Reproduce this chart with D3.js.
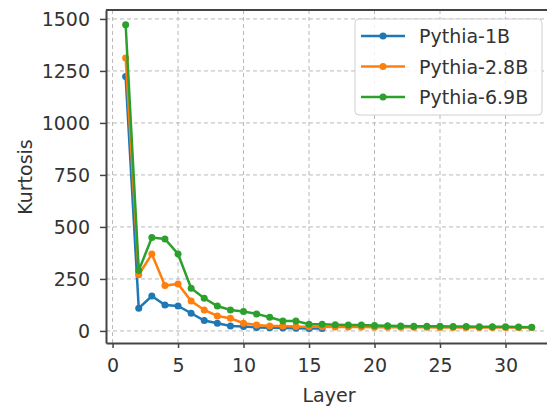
<!DOCTYPE html>
<html lang="en">
	<head>
		<meta charset="utf-8">
		<title>Kurtosis per layer</title>
		<script type="text/javascript" src="https://cdn.jsdelivr.net/npm/d3@7"></script>
		<style type="text/css">
			body, html {
				margin: 0;
				padding: 0;
				background: #fff;
			}
			.text {
				font-family: 'DejaVu Sans', sans-serif;
				font-size: 19px;
				fill: #333;
			}
			.grid line {
				stroke: #b8b8b8;
				stroke-width: 1;
				stroke-dasharray: 4, 3;
			}
			.axis path,
			.axis line {
				stroke: #444;
			}
			.axis path {
				stroke-width: 2;
			}
			.axis line {
				stroke-width: 1.5;
			}
		</style>
	</head>
	<body>
		<script type="text/javascript">
			var w = 547;
			var h = 407;

			// data
			var names = ["Pythia-1B", "Pythia-2.8B", "Pythia-6.9B"];
			var colors = ["#1f77b4", "#ff7f0e", "#2ca02c"];
			var xTicks = [0, 5, 10, 15, 20, 25, 30];
			var yTicks = [0, 250, 500, 750, 1000, 1250, 1500];

			var pythia1b = [1223, 109, 168, 125, 120, 85, 50, 37, 24, 21, 17, 15, 14, 13, 12, 12];
			var pythia28b = [1312, 270, 370, 218, 226, 144, 101, 72, 61, 37, 29, 24, 24, 21, 20, 20,
				19, 19, 19, 18, 18, 18, 18, 18, 17, 17, 17, 17, 17, 16, 16, 16];
			var pythia69b = [1472, 290, 449, 442, 370, 205, 157, 120, 101, 93, 82, 66, 48, 48, 32, 32,
				30, 29, 28, 26, 25, 24, 23, 22, 22, 21, 21, 20, 20, 20, 19, 18];

			var series = [pythia1b, pythia28b, pythia69b];

			var pLeft = 106, pRight = 552, pTop = 10, pBottom = 343;
			var x = d3.scaleLinear().domain([-0.5, 33.55]).range([pLeft, pRight]);
			var y = d3.scaleLinear().domain([-58, 1543]).range([pBottom, pTop]);

			var svg = d3.select("body")
				.append("svg")
				.attr("width", w)
				.attr("height", h);

			// grid
			svg.append("g")
				.attr("class", "grid")
				.selectAll("line")
				.data(xTicks)
				.enter()
				.append("line")
				.attr("x1", function(d) { return x(d); })
				.attr("x2", function(d) { return x(d); })
				.attr("y1", pTop)
				.attr("y2", pBottom);

			svg.append("g")
				.attr("class", "grid")
				.selectAll("line")
				.data(yTicks)
				.enter()
				.append("line")
				.attr("y1", function(d) { return y(d); })
				.attr("y2", function(d) { return y(d); })
				.attr("x1", pLeft)
				.attr("x2", pRight);

			// axes
			var xAxis = svg.append("g")
				.attr("class", "axis")
				.attr("transform", "translate(0," + pBottom + ")")
				.call(d3.axisBottom(x).tickValues(xTicks).tickFormat(d3.format("d"))
					.tickSizeInner(5).tickSizeOuter(0).tickPadding(11));
			xAxis.selectAll("text").attr("class", "text").attr("fill", null);

			var yAxis = svg.append("g")
				.attr("class", "axis")
				.attr("transform", "translate(" + pLeft + ",0)")
				.call(d3.axisLeft(y).tickValues(yTicks).tickFormat(d3.format("d"))
					.tickSizeInner(6).tickSizeOuter(0).tickPadding(10));
			yAxis.selectAll("text").attr("class", "text").attr("fill", null);

			// top spine
			svg.append("line")
				.attr("x1", pLeft).attr("x2", pRight)
				.attr("y1", pTop).attr("y2", pTop)
				.attr("stroke", "#444")
				.attr("stroke-width", 2);

			// lines
			var line = d3.line()
				.x(function(d, i) { return x(i + 1); })
				.y(function(d) { return y(d); });

			series.forEach(function(s, k) {
				svg.append("path")
					.datum(s)
					.attr("d", line)
					.attr("fill", "none")
					.attr("stroke", colors[k])
					.attr("stroke-width", 2.5);

				svg.append("g")
					.selectAll("circle")
					.data(s)
					.enter()
					.append("circle")
					.attr("cx", function(d, i) { return x(i + 1); })
					.attr("cy", function(d) { return y(d); })
					.attr("r", 3.5)
					.attr("fill", colors[k]);
			});

			// axis titles
			svg.append("text")
				.attr("class", "text")
				.attr("x", 329)
				.attr("y", 402)
				.attr("text-anchor", "middle")
				.text("Layer");

			svg.append("text")
				.attr("class", "text")
				.attr("transform", "translate(32,177) rotate(-90)")
				.attr("text-anchor", "middle")
				.text("Kurtosis");

			// legend
			var legend = svg.append("g");
			legend.append("rect")
				.attr("x", 355)
				.attr("y", 19)
				.attr("width", 187)
				.attr("height", 96)
				.attr("rx", 4)
				.attr("fill", "#fff")
				.attr("fill-opacity", 0.85)
				.attr("stroke", "#d0d0d0");

			names.forEach(function(n, k) {
				var ly = 36 + k * 30.5;
				legend.append("line")
					.attr("x1", 361).attr("x2", 405)
					.attr("y1", ly).attr("y2", ly)
					.attr("stroke", colors[k])
					.attr("stroke-width", 2.5);
				legend.append("circle")
					.attr("cx", 383).attr("cy", ly)
					.attr("r", 3.5)
					.attr("fill", colors[k]);
				legend.append("text")
					.attr("class", "text")
					.attr("x", 419)
					.attr("y", ly + 7)
					.text(n);
			});
		</script>
	</body>
</html>
